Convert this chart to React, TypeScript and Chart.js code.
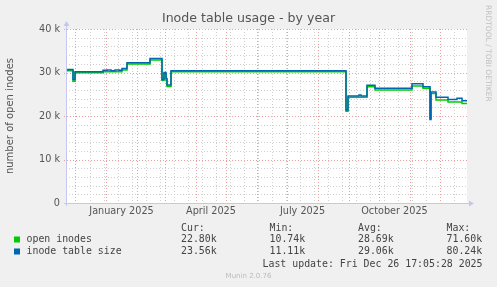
import React, { useEffect, useRef } from "react";
import { Chart, registerables } from "chart.js";

Chart.register(...registerables);

// x values are days counted from 2024-11-23 (plot start, 400-day window)
const START_UTC = Date.UTC(2024, 10, 23);
const WINDOW_DAYS = 400;

const tableSizeDays = [0, 6, 8, 36, 40, 44, 48, 52, 55, 60, 83, 95, 97, 99, 100, 104, 279, 281, 292, 294, 300, 308, 345, 356, 363, 364, 369, 381, 390, 395, 400];
const tableSizeK = [30.7, 28.4, 30.2, 30.5, 30.6, 30.4, 30.6, 30.5, 30.9, 32.25, 33.2, 28.4, 30.0, 28.6, 27.1, 30.4, 21.4, 24.6, 24.8, 24.6, 27.05, 26.4, 27.4, 26.7, 19.2, 25.5, 24.3, 23.8, 24.1, 23.5, 23.56];

const openDays = [0, 6, 8, 36, 55, 60, 83, 95, 97, 99, 100, 104, 279, 281, 300, 308, 345, 356, 363, 364, 369, 381, 395, 400];
const openK = [30.4, 28.0, 29.95, 30.2, 30.6, 31.95, 32.9, 28.2, 29.7, 28.3, 26.8, 30.15, 21.1, 24.3, 26.7, 26.0, 26.9, 26.4, 19.5, 25.2, 23.7, 23.2, 22.9, 22.8];

const xLabelYearMonths: [number, number, string][] = [
  [2025, 0, "January 2025"],
  [2025, 3, "April 2025"],
  [2025, 6, "July 2025"],
  [2025, 9, "October 2025"],
];

const yTickValues = [0, 10000, 20000, 30000, 40000];

const legendHeaders = ["Cur:", "Min:", "Avg:", "Max:"];
const legendNames = ["open inodes", "inode table size"];
const legendColors = ["#00CC00", "#0066B3"];
const legendStats = [
  ["22.80k", "10.74k", "28.69k", "71.60k"],
  ["23.56k", "11.11k", "29.06k", "80.24k"],
];
const titleText = "Inode table usage - by year";
const yTitle = "number of open inodes";
const lastUpdate = "Last update: Fri Dec 26 17:05:28 2025";
const footer = "Munin 2.0.76";
const watermark = "RRDTOOL / TOBI OETIKER";

const dayOf = (y: number, m: number, d = 1) => (Date.UTC(y, m, d) - START_UTC) / 86400000;

const monthLines: number[] = [];
for (let i = 0; i < 14; i++) {
  const d = dayOf(2024, 11 + i, 1);
  if (d > 0 && d < WINDOW_DAYS) monthLines.push(d);
}
const weekLines: number[] = [];
for (let d = dayOf(2024, 11, 16); d < WINDOW_DAYS; d += 14) weekLines.push(d);

const labelTicks = xLabelYearMonths.map(([y, m, label]) => ({
  value: (dayOf(y, m, 1) + dayOf(y, m + 1, 1)) / 2,
  label,
}));

const SANS = "'DejaVu Sans', sans-serif";
const MONO = "'DejaVu Sans Mono', monospace";

const decorPlugin = {
  id: "muninDecor",
  beforeDraw(chart: any) {
    const { ctx, chartArea } = chart;
    ctx.save();
    ctx.fillStyle = "#F0F0F0";
    ctx.fillRect(0, 0, chart.width, chart.height);
    ctx.fillStyle = "#FFFFFF";
    ctx.fillRect(chartArea.left, chartArea.top, chartArea.right - chartArea.left, chartArea.bottom - chartArea.top);
    ctx.restore();
  },
  beforeDatasetsDraw(chart: any) {
    const { ctx, chartArea, scales } = chart;
    const xs = scales.x;
    const ys = scales.y;
    ctx.save();
    ctx.lineWidth = 1;
    ctx.setLineDash([1, 2]);
    // horizontal grid
    for (let v = 2000; v <= 40000; v += 2000) {
      const y = Math.round(ys.getPixelForValue(v)) + 0.5;
      const major = v % 10000 === 0;
      ctx.strokeStyle = major ? "#EE9E9E" : "#CFCFCF";
      ctx.beginPath();
      ctx.moveTo(chartArea.left - (major ? 3 : 1), y);
      ctx.lineTo(chartArea.right, y);
      ctx.stroke();
    }
    // vertical grid
    const drawV = (d: number, color: string, ext: number) => {
      const x = Math.round(xs.getPixelForValue(d)) + 0.5;
      ctx.strokeStyle = color;
      ctx.beginPath();
      ctx.moveTo(x, chartArea.top);
      ctx.lineTo(x, chartArea.bottom + ext);
      ctx.stroke();
    };
    weekLines.forEach((d) => drawV(d, "#CFCFCF", 1));
    monthLines.forEach((d) => drawV(d, "#EE9E9E", 3));
    ctx.restore();
  },
  afterDatasetsDraw(chart: any) {
    const { ctx, chartArea } = chart;
    ctx.save();
    ctx.strokeStyle = "#C6C6F2";
    ctx.fillStyle = "#C6C6F2";
    ctx.lineWidth = 1;
    ctx.setLineDash([]);
    const ax = Math.round(chartArea.left) - 0.5;
    const ay = Math.round(chartArea.bottom) + 0.5;
    // x axis
    ctx.beginPath();
    ctx.moveTo(chartArea.left - 3, ay);
    ctx.lineTo(chartArea.right + 3, ay);
    ctx.stroke();
    ctx.beginPath();
    ctx.moveTo(chartArea.right + 7, ay);
    ctx.lineTo(chartArea.right + 2, ay - 3);
    ctx.lineTo(chartArea.right + 2, ay + 3);
    ctx.closePath();
    ctx.fill();
    // y axis
    ctx.beginPath();
    ctx.moveTo(ax, chartArea.bottom + 3);
    ctx.lineTo(ax, chartArea.top - 3);
    ctx.stroke();
    ctx.beginPath();
    ctx.moveTo(ax, chartArea.top - 8);
    ctx.lineTo(ax - 3, chartArea.top - 3);
    ctx.lineTo(ax + 3, chartArea.top - 3);
    ctx.closePath();
    ctx.fill();
    ctx.restore();
  },
  afterDraw(chart: any) {
    const { ctx, chartArea } = chart;
    ctx.save();
    // title
    ctx.fillStyle = "#555555";
    ctx.font = `12.6px ${SANS}`;
    ctx.textAlign = "center";
    ctx.textBaseline = "middle";
    ctx.fillText(titleText, 248.5, 19);
    // y axis title
    ctx.save();
    ctx.translate(10.5, (chartArea.top + chartArea.bottom) / 2);
    ctx.rotate(-Math.PI / 2);
    ctx.font = `10px ${SANS}`;
    ctx.fillStyle = "#555555";
    ctx.fillText(yTitle, 0, 0);
    ctx.restore();
    // watermark
    ctx.save();
    ctx.translate(488, 5);
    ctx.rotate(Math.PI / 2);
    ctx.font = `7.5px ${SANS}`;
    ctx.fillStyle = "#C0C0C0";
    ctx.textAlign = "left";
    ctx.textBaseline = "middle";
    ctx.fillText(watermark, 0, 0);
    ctx.restore();
    // legend
    ctx.font = `9.9px ${MONO}`;
    ctx.textAlign = "left";
    ctx.textBaseline = "middle";
    ctx.fillStyle = "#444444";
    const cols = [181, 269.5, 358, 446.5];
    legendHeaders.forEach((h, i) => ctx.fillText(h, cols[i], 228.5));
    const rows = [239.5, 251.5];
    legendNames.forEach((n, r) => {
      ctx.fillStyle = legendColors[r];
      ctx.fillRect(14, rows[r] - 3, 6, 6);
      ctx.fillStyle = "#444444";
      ctx.fillText(n, 26.5, rows[r]);
      legendStats[r].forEach((s, i) => ctx.fillText(s, cols[i], rows[r]));
    });
    ctx.textAlign = "right";
    ctx.fillText(lastUpdate, 482.5, 264);
    ctx.textAlign = "center";
    ctx.font = `7px ${SANS}`;
    ctx.fillStyle = "#BBBBBB";
    ctx.fillText(footer, 248.5, 276);
    ctx.restore();
  },
};

export default function App() {
  const ref = useRef<HTMLCanvasElement | null>(null);
  useEffect(() => {
    if (!ref.current) return;
    const chart = new Chart(ref.current, {
      type: "line",
      data: {
        datasets: [
          {
            label: legendNames[1],
            data: tableSizeDays.map((d, i) => ({ x: d, y: tableSizeK[i] * 1000 })),
            borderColor: legendColors[1],
            borderWidth: 1.5,
            pointRadius: 0,
            stepped: true,
            fill: false,
            order: 0,
          },
          {
            label: legendNames[0],
            data: openDays.map((d, i) => ({ x: d, y: openK[i] * 1000 })),
            borderColor: legendColors[0],
            borderWidth: 1.5,
            pointRadius: 0,
            stepped: true,
            fill: false,
            order: 1,
          },
        ],
      },
      options: {
        responsive: false,
        animation: false,
        devicePixelRatio: 1,
        layout: { padding: { top: 29, right: 30, left: 0, bottom: 0 } },
        plugins: { legend: { display: false }, title: { display: false }, tooltip: { enabled: false } },
        scales: {
          x: {
            type: "linear",
            min: 0,
            max: WINDOW_DAYS,
            grid: { display: false, drawTicks: false },
            border: { display: false },
            afterFit: (s: any) => { s.height = 84; },
            afterBuildTicks: (s: any) => { s.ticks = labelTicks.map((t) => ({ value: t.value })); },
            ticks: {
              autoSkip: false,
              maxRotation: 0,
              padding: 3,
              color: "#555555",
              font: { family: "'DejaVu Sans', sans-serif", size: 9.7 },
              callback: (v: any) => {
                const t = labelTicks.find((lt) => Math.abs(lt.value - Number(v)) < 0.01);
                return t ? t.label : "";
              },
            },
          },
          y: {
            type: "linear",
            min: 0,
            max: 40000,
            grid: { display: false, drawTicks: false },
            border: { display: false },
            afterFit: (s: any) => { s.width = 67; },
            afterBuildTicks: (s: any) => { s.ticks = yTickValues.map((v) => ({ value: v })); },
            ticks: {
              padding: 7,
              color: "#555555",
              font: { family: "'DejaVu Sans', sans-serif", size: 9.7 },
              callback: (v: any) => (Number(v) === 0 ? "0" : `${Number(v) / 1000} k`),
            },
          },
        },
      },
      plugins: [decorPlugin],
    });
    return () => chart.destroy();
  }, []);
  return (
    <div style={{ position: "absolute", left: 0, top: 0, width: 497, height: 287 }}>
      <canvas ref={ref} width={497} height={287} style={{ display: "block", width: 497, height: 287 }} />
    </div>
  );
}
